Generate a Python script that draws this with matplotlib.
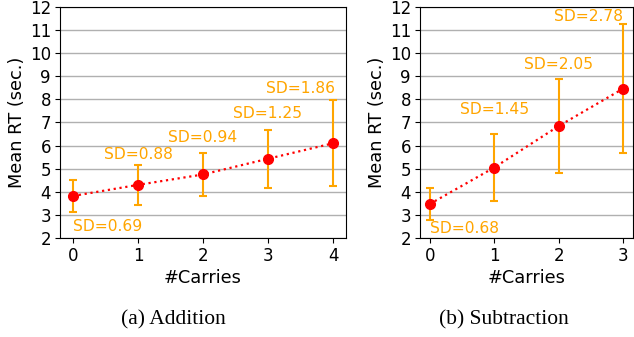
import matplotlib
matplotlib.use("Agg")
import matplotlib.pyplot as plt

add_x = [0, 1, 2, 3, 4]
add_mean = [3.82, 4.30, 4.75, 5.43, 6.10]
add_sd = [0.69, 0.88, 0.94, 1.25, 1.86]
add_lab_x = [0.0, 1.0, 2.0, 3.0, 3.5]
add_lab_y = [2.5, 5.6, 6.37, 7.4, 8.48]
add_lab_ha = ["left", "center", "center", "center", "center"]

sub_x = [0, 1, 2, 3]
sub_mean = [3.47, 5.05, 6.85, 8.47]
sub_sd = [0.68, 1.45, 2.05, 2.78]
sub_lab_x = [0.0, 1.0, 2.0, 3.0]
sub_lab_y = [2.4, 7.55, 9.53, 11.57]
sub_lab_ha = ["left", "center", "center", "right"]

yticks = list(range(2, 13))
captions = ["(a) Addition", "(b) Subtraction"]

fig = plt.figure(figsize=(6.34, 3.37), dpi=100)
ax1 = fig.add_axes([60/634, 1-238/337, 286/634, 231/337])
ax2 = fig.add_axes([420/634, 1-238/337, 213/634, 231/337])

def draw(ax, x, m, sd, lx, ly, ha, xlim):
    ax.errorbar(x, m, yerr=sd, fmt="none", ecolor="orange", elinewidth=1.5,
                capsize=3, capthick=1.5, zorder=2)
    ax.plot(x, m, color="red", linestyle=":", linewidth=1.6, marker="o",
            markersize=7, zorder=3)
    for xi, yi, s, h in zip(lx, ly, sd, ha):
        ax.text(xi, yi, "SD=%.2f" % s, color="orange", fontsize=11.2,
                ha=h, va="center")
    ax.set_ylim(2, 12)
    ax.set_yticks(yticks)
    ax.set_xticks(x)
    ax.set_xlim(*xlim)
    ax.grid(axis="y", color="#b0b0b0", linewidth=1)
    ax.set_axisbelow(True)
    ax.tick_params(labelsize=12, pad=3)
    ax.set_xlabel("#Carries", fontsize=12.8, labelpad=3)
    ax.set_ylabel("Mean RT (sec.)", fontsize=12.8, labelpad=3)

draw(ax1, add_x, add_mean, add_sd, add_lab_x, add_lab_y, add_lab_ha, (-0.2, 4.2))
draw(ax2, sub_x, sub_mean, sub_sd, sub_lab_x, sub_lab_y, sub_lab_ha, (-0.15, 3.15))

fig.text(173/634, 1-320/337, captions[0], family="Liberation Serif", fontsize=15.5,
         ha="center", va="center")
fig.text(504/634, 1-320/337, captions[1], family="Liberation Serif", fontsize=15.5,
         ha="center", va="center")

fig.savefig("out.png", dpi=100)
